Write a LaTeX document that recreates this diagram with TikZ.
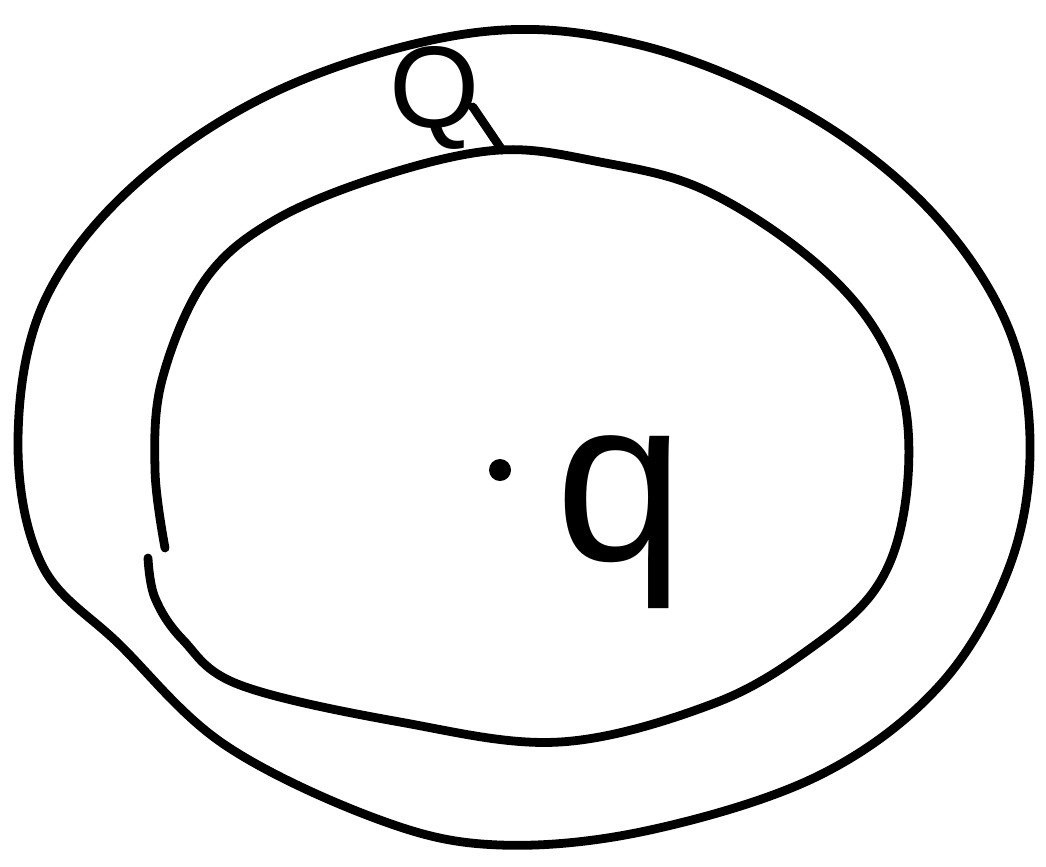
\documentclass[tikz,border=0pt]{standalone}
\usepackage{fontspec}
\setmainfont{Liberation Sans}
\usepackage{tikz}
\begin{document}
\begin{tikzpicture}[
    x=0.01cm, y=-0.01cm,
    every node/.style={font=\fontsize{33}{33}\selectfont},
    shell/.style={line width=2.5pt, line join=round, line cap=round},
    charge/.style={inner sep=0pt},
    point/.style={circle, fill=black, inner sep=0pt, minimum size=0.22cm}
]
\useasboundingbox (0,0) rectangle (1046,866);

% Outer surface
\draw[shell] plot[smooth cycle, tension=0.6] coordinates {
    (18,440) (45,300) (140,180) (290,85) (480,32) (640,45) (800,110)
    (925,205) (1005,320) (1030,440) (1010,565) (940,685) (820,775)
    (650,830) (500,845) (380,820) (225,745) (120,645) (42,565)};

% Inner surface (open at the left)
\draw[shell] plot[smooth, tension=0.6] coordinates {
    (165,548) (155,470) (162,380) (205,280) (275,220) (385,175) (500,150)
    (600,162) (700,188) (800,250) (870,322) (905,405) (905,505) (878,585)
    (815,645) (715,703) (560,742) (400,722) (240,685) (183,640) (155,598)
    (148,558)};

% Labels
\node[charge, anchor=base] (Qlabel) at (435,127) {Q};
\coordinate (Qtouch) at (502,150);
\draw[shell] (Qlabel.base east) ++(-8,-20) -- (Qtouch);

\node[point] (center) at (500,470) {};
\node[charge, font=\fontsize{66}{66}\selectfont, anchor=base] (qlabel) at (620,560) {q};

\end{tikzpicture}
\end{document}
